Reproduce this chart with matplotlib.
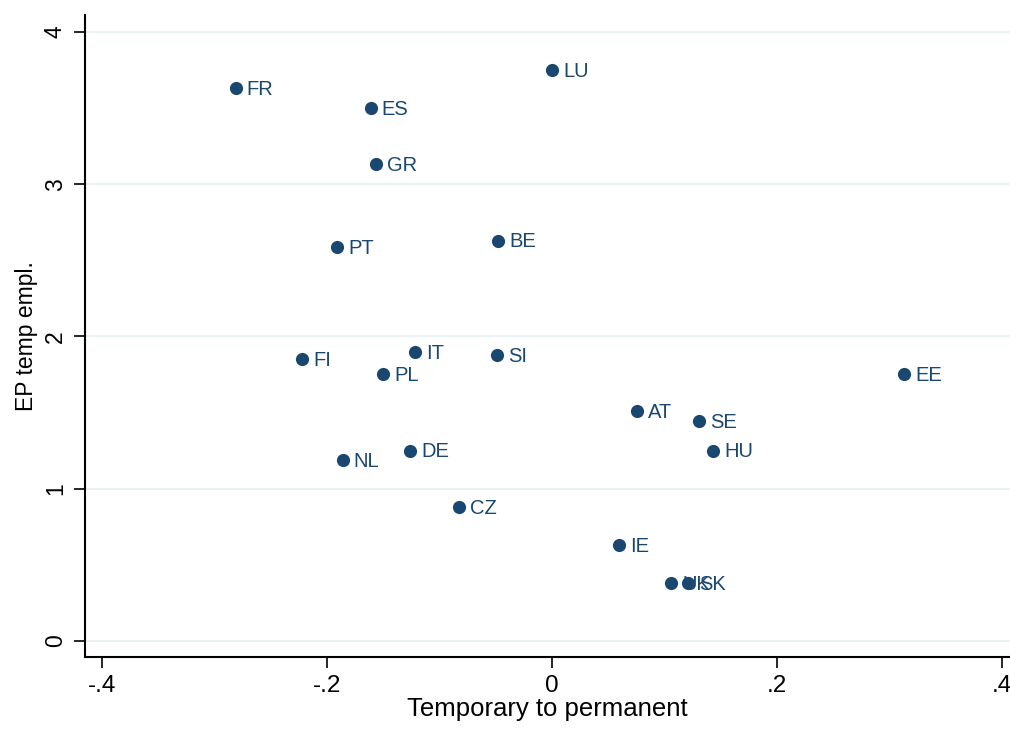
import matplotlib
matplotlib.use("Agg")
import matplotlib.pyplot as plt

plt.rcParams['font.family'] = ['Liberation Sans', 'DejaVu Sans']

# country codes and values
countries = ["FR", "ES", "LU", "GR", "PT", "BE", "IT", "SI", "FI", "PL",
             "EE", "AT", "SE", "HU", "DE", "NL", "CZ", "IE", "UK", "SK"]
temp_to_perm = [-0.281, -0.161, 0.000, -0.156, -0.191, -0.048, -0.122, -0.049, -0.222, -0.150,
                0.313, 0.0756, 0.131, 0.143, -0.126, -0.186, -0.083, 0.060, 0.106, 0.121]
ep_temp = [3.63, 3.50, 3.75, 3.13, 2.59, 2.63, 1.90, 1.88, 1.85, 1.75,
           1.75, 1.51, 1.445, 1.25, 1.25, 1.19, 0.88, 0.63, 0.38, 0.38]

x_ticks = [-0.4, -0.2, 0.0, 0.2, 0.4]
x_tick_labels = ["-.4", "-.2", "0", ".2", ".4"]
y_ticks = [0, 1, 2, 3, 4]

navy = "#1a476f"

fig = plt.figure(figsize=(10.1, 7.29), dpi=100)
ax = fig.add_axes([0.084, 0.099, 0.916, 0.88])

ax.scatter(temp_to_perm, ep_temp, s=90, color=navy, zorder=3, linewidths=0)
for name, xv, yv in zip(countries, temp_to_perm, ep_temp):
    ax.annotate(name, (xv, yv), xytext=(8, -1), textcoords="offset points",
                ha="left", va="center", fontsize=14.5, color=navy, zorder=4)

ax.set_xlim(-0.415, 0.407)
ax.set_ylim(-0.105, 4.11)
ax.set_xticks(x_ticks)
ax.set_xticklabels(x_tick_labels)
ax.set_yticks(y_ticks)
for lab in ax.get_yticklabels():
    lab.set_rotation(90)
    lab.set_va("center")

ax.tick_params(axis="both", length=8, width=1.2, color="black")
ax.tick_params(axis="x", labelsize=17.5, pad=5)
ax.tick_params(axis="y", labelsize=16.5, pad=5)
ax.yaxis.grid(True, color="#eaf2f3", linewidth=1.5, zorder=0)
ax.set_axisbelow(True)

for side in ["top", "right"]:
    ax.spines[side].set_visible(False)
for side in ["left", "bottom"]:
    ax.spines[side].set_linewidth(1.5)

ax.set_xlabel("Temporary to permanent", fontsize=18.5, labelpad=0)
ax.set_ylabel("EP temp empl.", fontsize=16.5, labelpad=4)

fig.savefig("out.png", dpi=100)
